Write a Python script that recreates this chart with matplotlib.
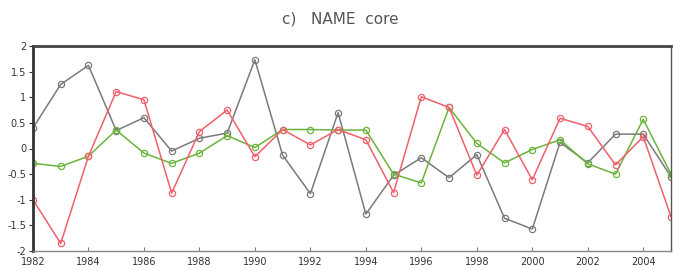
import numpy as np
import matplotlib.pyplot as plt

years = list(range(1982, 2006))

gray_vals = [0.40, 1.25, 1.62, 0.35, 0.60, -0.05, 0.20, 0.30, 1.73, -0.13, -0.88, 0.70,
             -1.28, -0.52, -0.18, -0.57, -0.12, -1.36, -1.57, 0.12, -0.28, 0.28, 0.28, -0.55]
red_vals = [-1.00, -1.85, -0.15, 1.11, 0.95, -0.87, 0.33, 0.75, -0.16, 0.37, 0.07, 0.37,
            0.17, -0.86, 1.01, 0.80, -0.52, 0.37, -0.61, 0.59, 0.43, -0.32, 0.23, -1.33]
green_vals = [-0.29, -0.35, -0.15, 0.36, -0.09, -0.29, -0.09, 0.25, 0.02, 0.37, 0.37, 0.36,
              0.36, -0.50, -0.67, 0.80, 0.10, -0.28, -0.02, 0.17, -0.30, -0.50, 0.57, -0.50]

yticks = [2, 1.5, 1, 0.5, 0, -0.5, -1, -1.5, -2]
ytick_labels = ["2", "1.5", "1", "0.5", "0", "-0.5", "-1", "-1.5", "-2"]
xticks = list(range(1982, 2005, 2))

fig = plt.figure(figsize=(6.73, 2.70), dpi=100)
ax = fig.add_axes([0.049, 0.070, 0.948, 0.760])

series = [
    (gray_vals, "#7a7a7a"),
    (green_vals, "#6cb43c"),
    (red_vals, "#f0606c"),
]
for vals, col in series:
    ax.plot(years, vals, color=col, lw=1.1, marker="o", ms=4.5,
            mfc="none", mec=col, mew=0.9)

ax.set_xlim(1982, 2005)
ax.set_ylim(-2, 2)
ax.set_xticks(xticks)
ax.set_xticklabels([str(y) for y in xticks], fontsize=7, color="#333333")
ax.set_yticks(yticks)
ax.set_yticklabels(ytick_labels, fontsize=7, color="#333333")
ax.tick_params(axis="x", direction="in", length=3, pad=4, color="#777777")
ax.tick_params(axis="y", direction="out", length=3, pad=2, color="#333333")

ax.spines["top"].set_linewidth(2)
ax.spines["top"].set_color("#444444")
ax.spines["left"].set_linewidth(2)
ax.spines["left"].set_color("#333333")
ax.spines["bottom"].set_linewidth(1)
ax.spines["bottom"].set_color("#888888")
ax.spines["right"].set_linewidth(1)
ax.spines["right"].set_color("#555555")

fig.text(0.505, 0.93, "c)   NAME  core", ha="center", va="center",
         fontsize=11, color="#555555")

fig.savefig("out.png", dpi=100)
